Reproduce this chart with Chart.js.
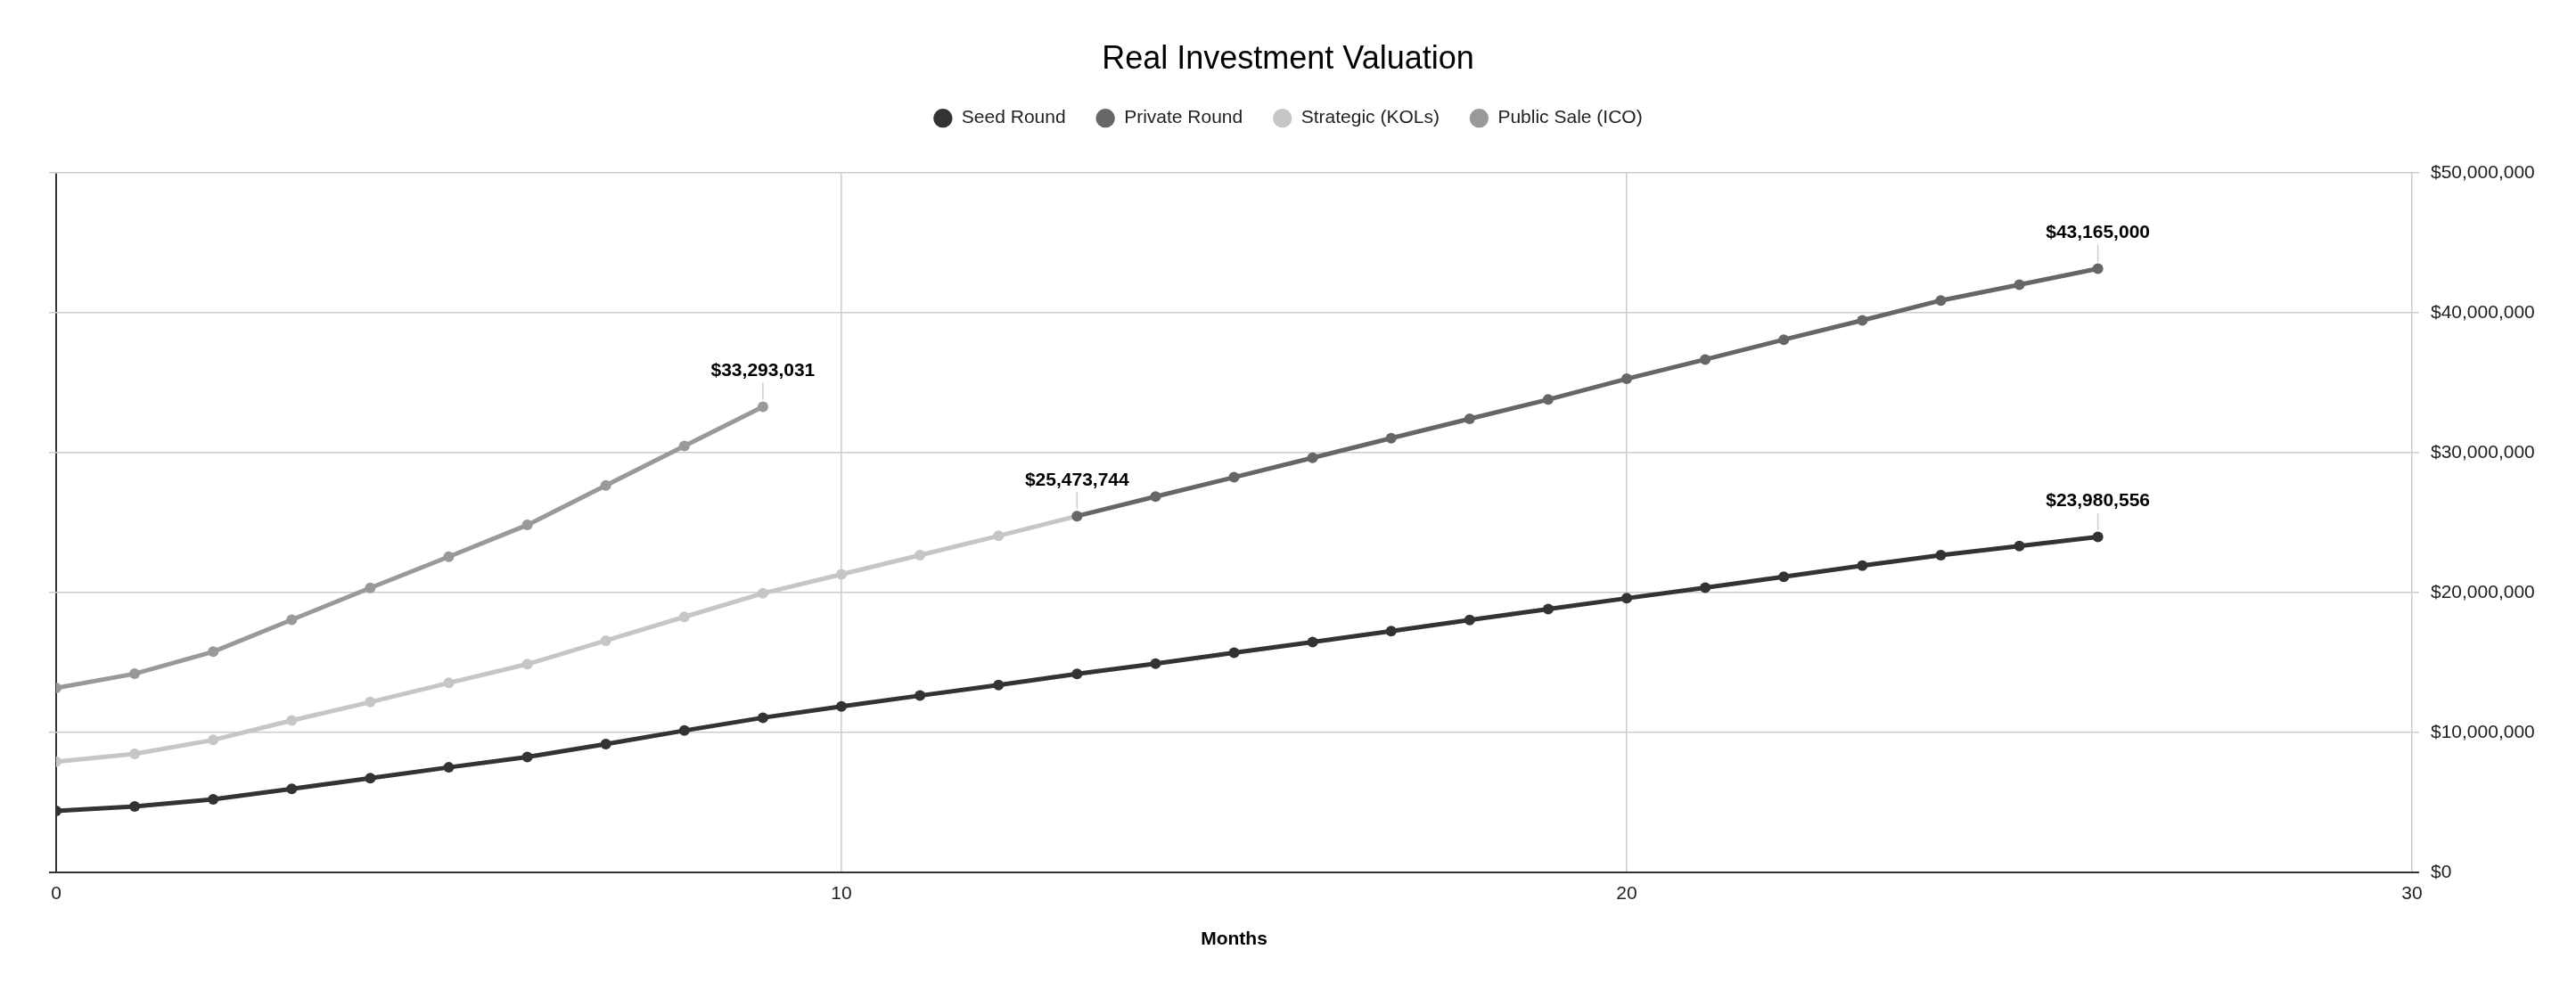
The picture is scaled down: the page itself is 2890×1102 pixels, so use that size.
<!DOCTYPE html>
<html>
<head>
<meta charset="utf-8">
<title>Real Investment Valuation</title>
<script src="https://cdn.jsdelivr.net/npm/chart.js@4.4.1/dist/chart.umd.min.js"></script>
<style>
  html, body { margin: 0; padding: 0; background: #fff; }
  #wrap { width: 2890px; height: 1102px; position: relative; }
</style>
</head>
<body>
<div id="wrap"><canvas id="valuationChart"></canvas></div>
<script>
const months = [0, 1, 2, 3, 4, 5, 6, 7, 8, 9, 10, 11, 12, 13, 14, 15, 16, 17, 18, 19, 20, 21, 22, 23, 24, 25, 26];

const seedRound = [4390000, 4720000, 5230000, 5970000, 6740000, 7510000, 8250000, 9180000, 10140000, 11060000,
    11860000, 12640000, 13400000, 14190000, 14930000, 15710000, 16470000, 17250000, 18050000, 18820000,
    19600000, 20360000, 21130000, 21930000, 22680000, 23330000, 23980556];

const privateRound = [null, null, null, null, null, null, null, null, null, null, null, null, null,
    25473744, 26870000, 28250000, 29640000, 31040000, 32430000, 33810000, 35290000, 36670000, 38090000,
    39470000, 40890000, 42020000, 43165000];

const strategicKols = [7910000, 8470000, 9470000, 10860000, 12180000, 13550000, 14890000, 16570000, 18270000,
    19950000, 21310000, 22680000, 24060000, 25473744];

const publicSale = [13190000, 14200000, 15780000, 18060000, 20340000, 22570000, 24840000, 27670000, 30480000, 33293031];

const seriesNames = ['Seed Round', 'Private Round', 'Strategic (KOLs)', 'Public Sale (ICO)'];
const seriesColors = ['#333333', '#666666', '#c6c6c6', '#999999'];
const monthTicks = [0, 10, 20, 30];
const valueTicks = [0, 10000000, 20000000, 30000000, 40000000, 50000000];

const FONT = "'Liberation Sans', Arial, sans-serif";

function money(v) {
    return '$' + Math.round(v).toLocaleString('en-US');
}

function makeSet(i, values) {
    return {
        label: seriesNames[i],
        data: values,
        borderColor: seriesColors[i],
        backgroundColor: seriesColors[i],
        pointBackgroundColor: seriesColors[i],
        pointBorderWidth: 0,
        pointRadius: 6,
        pointHoverRadius: 6,
        borderWidth: 5,
        tension: 0,
        spanGaps: false,
        fill: false
    };
}

// value label above the last point of each line, with a short leader
const endLabels = {
    id: 'endLabels',
    afterDatasetsDraw(chart) {
        const ctx = chart.ctx;
        chart.data.datasets.forEach(function(ds, i) {
            const meta = chart.getDatasetMeta(i);
            let last = -1;
            ds.data.forEach(function(v, j) { if (v !== null) last = j; });
            if (last < 0) return;
            const pt = meta.data[last];
            ctx.save();
            ctx.strokeStyle = '#cccccc';
            ctx.lineWidth = 1.5;
            ctx.beginPath();
            ctx.moveTo(pt.x, pt.y - 8);
            ctx.lineTo(pt.x, pt.y - 27);
            ctx.stroke();
            ctx.fillStyle = '#000';
            ctx.font = 'bold 21px ' + FONT;
            ctx.textAlign = 'center';
            ctx.textBaseline = 'middle';
            ctx.fillText(money(ds.data[last]), pt.x, pt.y - 40);
            ctx.restore();
        });
    }
};

// push the plot area down under the legend
const legendGap = {
    id: 'legendGap',
    beforeInit(chart) {
        const origFit = chart.legend.fit;
        chart.legend.fit = function() {
            origFit.bind(chart.legend)();
            this.height = 106;
        };
    }
};

function gridColor(ctx) {
    return ctx.tick && ctx.tick.value === 0 ? '#333333' : '#cccccc';
}
function gridWidth(ctx) {
    return ctx.tick && ctx.tick.value === 0 ? 2 : 1.5;
}

const ctx = document.getElementById('valuationChart').getContext('2d');
const valuationChart = new Chart(ctx, {
    type: 'line',
    data: {
        labels: months,
        datasets: [
            makeSet(0, seedRound),
            makeSet(1, privateRound),
            makeSet(2, strategicKols),
            makeSet(3, publicSale)
        ]
    },
    options: {
        responsive: true,
        maintainAspectRatio: false,
        animation: false,
        layout: { padding: 0 },
        plugins: {
            title: {
                display: true,
                text: 'Real Investment Valuation',
                color: '#000',
                font: { family: FONT, size: 36, weight: 'normal' },
                padding: { top: 45, bottom: 0 }
            },
            legend: {
                position: 'top',
                labels: {
                    usePointStyle: true,
                    pointStyle: 'circle',
                    boxWidth: 21,
                    boxHeight: 15,
                    padding: 34,
                    color: '#222',
                    font: { family: FONT, size: 21 }
                }
            },
            tooltip: { enabled: false }
        },
        scales: {
            x: {
                type: 'linear',
                min: 0,
                max: 30,
                afterBuildTicks: function(scale) {
                    scale.ticks = monthTicks.map(function(v) { return { value: v }; });
                },
                afterFit: function(scale) { scale.height = 123; },
                grid: { color: gridColor, lineWidth: gridWidth, drawTicks: false },
                border: { display: false },
                ticks: { padding: 12, color: '#222', font: { family: FONT, size: 21 } },
                title: {
                    display: true,
                    text: 'Months',
                    color: '#000',
                    font: { family: FONT, size: 21, weight: 'bold' },
                    padding: { top: 0, bottom: 35 }
                }
            },
            y: {
                position: 'right',
                min: 0,
                max: 50000000,
                afterBuildTicks: function(scale) {
                    scale.ticks = valueTicks.map(function(v) { return { value: v }; });
                },
                afterFit: function(scale) { scale.width = 184; },
                grid: { color: gridColor, lineWidth: gridWidth, tickLength: 8 },
                border: { display: false },
                ticks: {
                    padding: 13,
                    color: '#222',
                    font: { family: FONT, size: 21 },
                    callback: function(v) { return money(v); }
                }
            },
            yLeft: {
                position: 'left',
                min: 0,
                max: 50000000,
                afterBuildTicks: function(scale) {
                    scale.ticks = valueTicks.map(function(v) { return { value: v }; });
                },
                afterFit: function(scale) { scale.width = 63; },
                grid: { color: gridColor, lineWidth: gridWidth, tickLength: 8, drawOnChartArea: false },
                border: { display: false },
                ticks: { display: false }
            }
        }
    },
    plugins: [endLabels, legendGap]
});
</script>
</body>
</html>
